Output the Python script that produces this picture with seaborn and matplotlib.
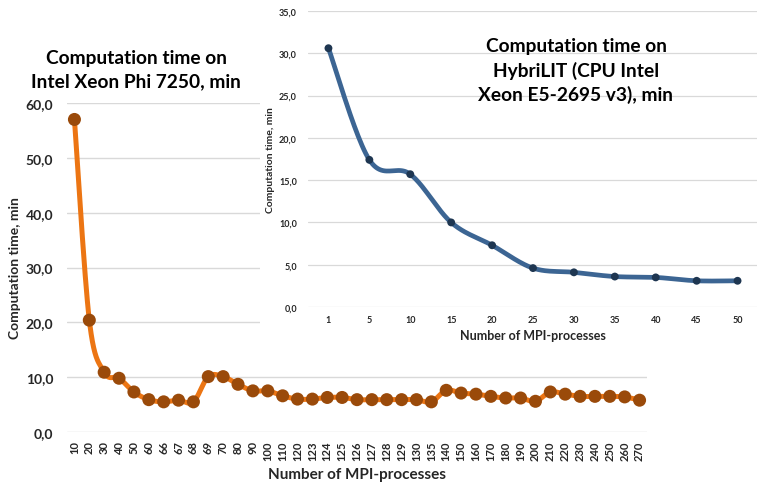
import numpy as np
import matplotlib
matplotlib.use("Agg")
import matplotlib.pyplot as plt
from matplotlib.patches import Rectangle
from matplotlib.ticker import FuncFormatter
import seaborn as sns

# Intel Xeon Phi 7250 run times
phi_procs = ["10", "20", "30", "40", "50", "60", "66", "67", "68", "69", "70", "80",
             "90", "100", "110", "120", "123", "124", "125", "126", "127", "128",
             "129", "130", "135", "140", "150", "160", "170", "180", "190", "200",
             "210", "220", "230", "240", "250", "260", "270"]
phi_minutes = [57.0, 20.4, 10.9, 9.8, 7.3, 5.9, 5.5, 5.8, 5.5, 10.1, 10.1, 8.7,
               7.5, 7.5, 6.6, 6.0, 6.0, 6.3, 6.3, 5.9, 5.9, 5.9,
               5.9, 5.9, 5.5, 7.6, 7.1, 6.9, 6.5, 6.2, 6.2, 5.6,
               7.3, 6.9, 6.5, 6.5, 6.5, 6.4, 5.8]

# HybriLIT (Xeon E5-2695 v3) run times
hl_procs = ["1", "5", "10", "15", "20", "25", "30", "35", "40", "45", "50"]
hl_minutes = [30.6, 17.4, 15.7, 10.0, 7.3, 4.6, 4.1, 3.6, 3.5, 3.1, 3.1]

phi_ticks = [0, 10, 20, 30, 40, 50, 60]
hl_ticks = [0, 5, 10, 15, 20, 25, 30, 35]

sns.set_theme(style="white")
plt.rcParams["font.family"] = ["Lato", "DejaVu Sans"]
plt.rcParams["font.weight"] = "bold"

W, H = 757, 485
fig = plt.figure(figsize=(W / 100, H / 100), dpi=100)


def fx(px):
    return px / W


def fy(py):
    return (H - py) / H


def smooth(y, steps=24):
    """Bezier curve through equally spaced points (Catmull-Rom tangents)."""
    y = np.asarray(y, float)
    x = np.arange(len(y), dtype=float)
    pts = np.column_stack([x, y])
    ext = np.vstack([pts[0], pts, pts[-1]])
    out = []
    t = np.linspace(0, 1, steps, endpoint=False)[:, None]
    for i in range(1, len(ext) - 2):
        p0, p1, p2, p3 = ext[i - 1], ext[i], ext[i + 1], ext[i + 2]
        c1 = p1 + (p2 - p0) / 6
        c2 = p2 - (p3 - p1) / 6
        seg = ((1 - t) ** 3) * p1 + 3 * ((1 - t) ** 2) * t * c1 + 3 * (1 - t) * t ** 2 * c2 + t ** 3 * p2
        out.append(seg)
    out.append(pts[-1][None, :])
    arr = np.vstack(out)
    return arr[:, 0], arr[:, 1]


comma_fmt = FuncFormatter(lambda v, _: f"{v:.1f}".replace(".", ","))
grid_col = "#D9D9D9"

# ---- main chart ----
ax = fig.add_axes([fx(67), fy(433), fx(647) - fx(67), fy(104) - fy(433)])
ax.set_zorder(0)
ax.set_xlim(-0.5, len(phi_procs) - 0.5)
ax.set_ylim(0, 60)
for v in phi_ticks:
    ax.axhline(v, color=grid_col, lw=1.0, zorder=0)
sx, sy = smooth(phi_minutes)
ax.plot(sx, sy, color="#EC7513", lw=3.6, zorder=2, solid_capstyle="round")
sns.scatterplot(x=np.arange(len(phi_procs)), y=phi_minutes, ax=ax, s=88,
                color="#9A4A0A", edgecolor="none", zorder=3, legend=False)
ax.set_xticks(np.arange(len(phi_procs)))
ax.set_xticklabels(phi_procs, rotation=90, fontsize=8, fontweight="bold")
ax.set_yticks(phi_ticks)
ax.yaxis.set_major_formatter(comma_fmt)
ax.tick_params(axis="y", labelsize=10, length=0, pad=10)
ax.tick_params(axis="x", length=0, pad=6)
for lbl in ax.get_yticklabels():
    lbl.set_fontweight("bold")
for s in ax.spines.values():
    s.set_visible(False)
ax.set_xlabel("Number of MPI-processes", fontsize=11, fontweight="bold", labelpad=5)
ax.set_ylabel("Computation time, min", fontsize=10, fontweight="bold", labelpad=3)
ax.patch.set_alpha(0)

fig.text(fx(136), fy(70), "Computation time on\nIntel Xeon Phi 7250, min",
         ha="center", va="center", fontsize=13.8, fontweight="bold",
         linespacing=1.45, color="black")

# ---- inset chart ----
fig.add_artist(Rectangle((fx(260), fy(352)), 1 - fx(260), 1 - fy(352),
                         transform=fig.transFigure, facecolor="white",
                         edgecolor="none", zorder=0.5))
ax2 = fig.add_axes([fx(308), fy(308), fx(758) - fx(308), fy(12) - fy(308)])
ax2.set_zorder(1)
ax2.set_xlim(-0.5, len(hl_procs) - 0.5)
ax2.set_ylim(0, 35)
for v in hl_ticks:
    ax2.axhline(v, color=grid_col, lw=0.9, zorder=0)
hx, hy = smooth(hl_minutes)
ax2.plot(hx, hy, color="#3C6593", lw=3.4, zorder=2, solid_capstyle="round")
sns.scatterplot(x=np.arange(len(hl_procs)), y=hl_minutes, ax=ax2, s=32,
                color="#1E3651", edgecolor="none", zorder=3, legend=False)
ax2.set_xticks(np.arange(len(hl_procs)))
ax2.set_xticklabels(hl_procs, fontsize=6.5, fontweight="bold")
ax2.set_yticks(hl_ticks)
ax2.yaxis.set_major_formatter(comma_fmt)
ax2.tick_params(axis="y", labelsize=6.5, length=0, pad=8)
ax2.tick_params(axis="x", length=0, pad=6)
for lbl in ax2.get_yticklabels():
    lbl.set_fontweight("bold")
for s in ax2.spines.values():
    s.set_visible(False)
ax2.set_xlabel("Number of MPI-processes", fontsize=9, fontweight="bold", labelpad=3)
ax2.set_ylabel("Computation time, min", fontsize=7.5, fontweight="bold", labelpad=3)
ax2.patch.set_facecolor("white")

fig.text(fx(576), fy(71), "Computation time on\nHybriLIT (CPU Intel\nXeon E5-2695 v3), min",
         ha="center", va="center", fontsize=13.8, fontweight="bold",
         linespacing=1.45, color="black", zorder=5)

fig.savefig("out.png", dpi=100, facecolor="white")
